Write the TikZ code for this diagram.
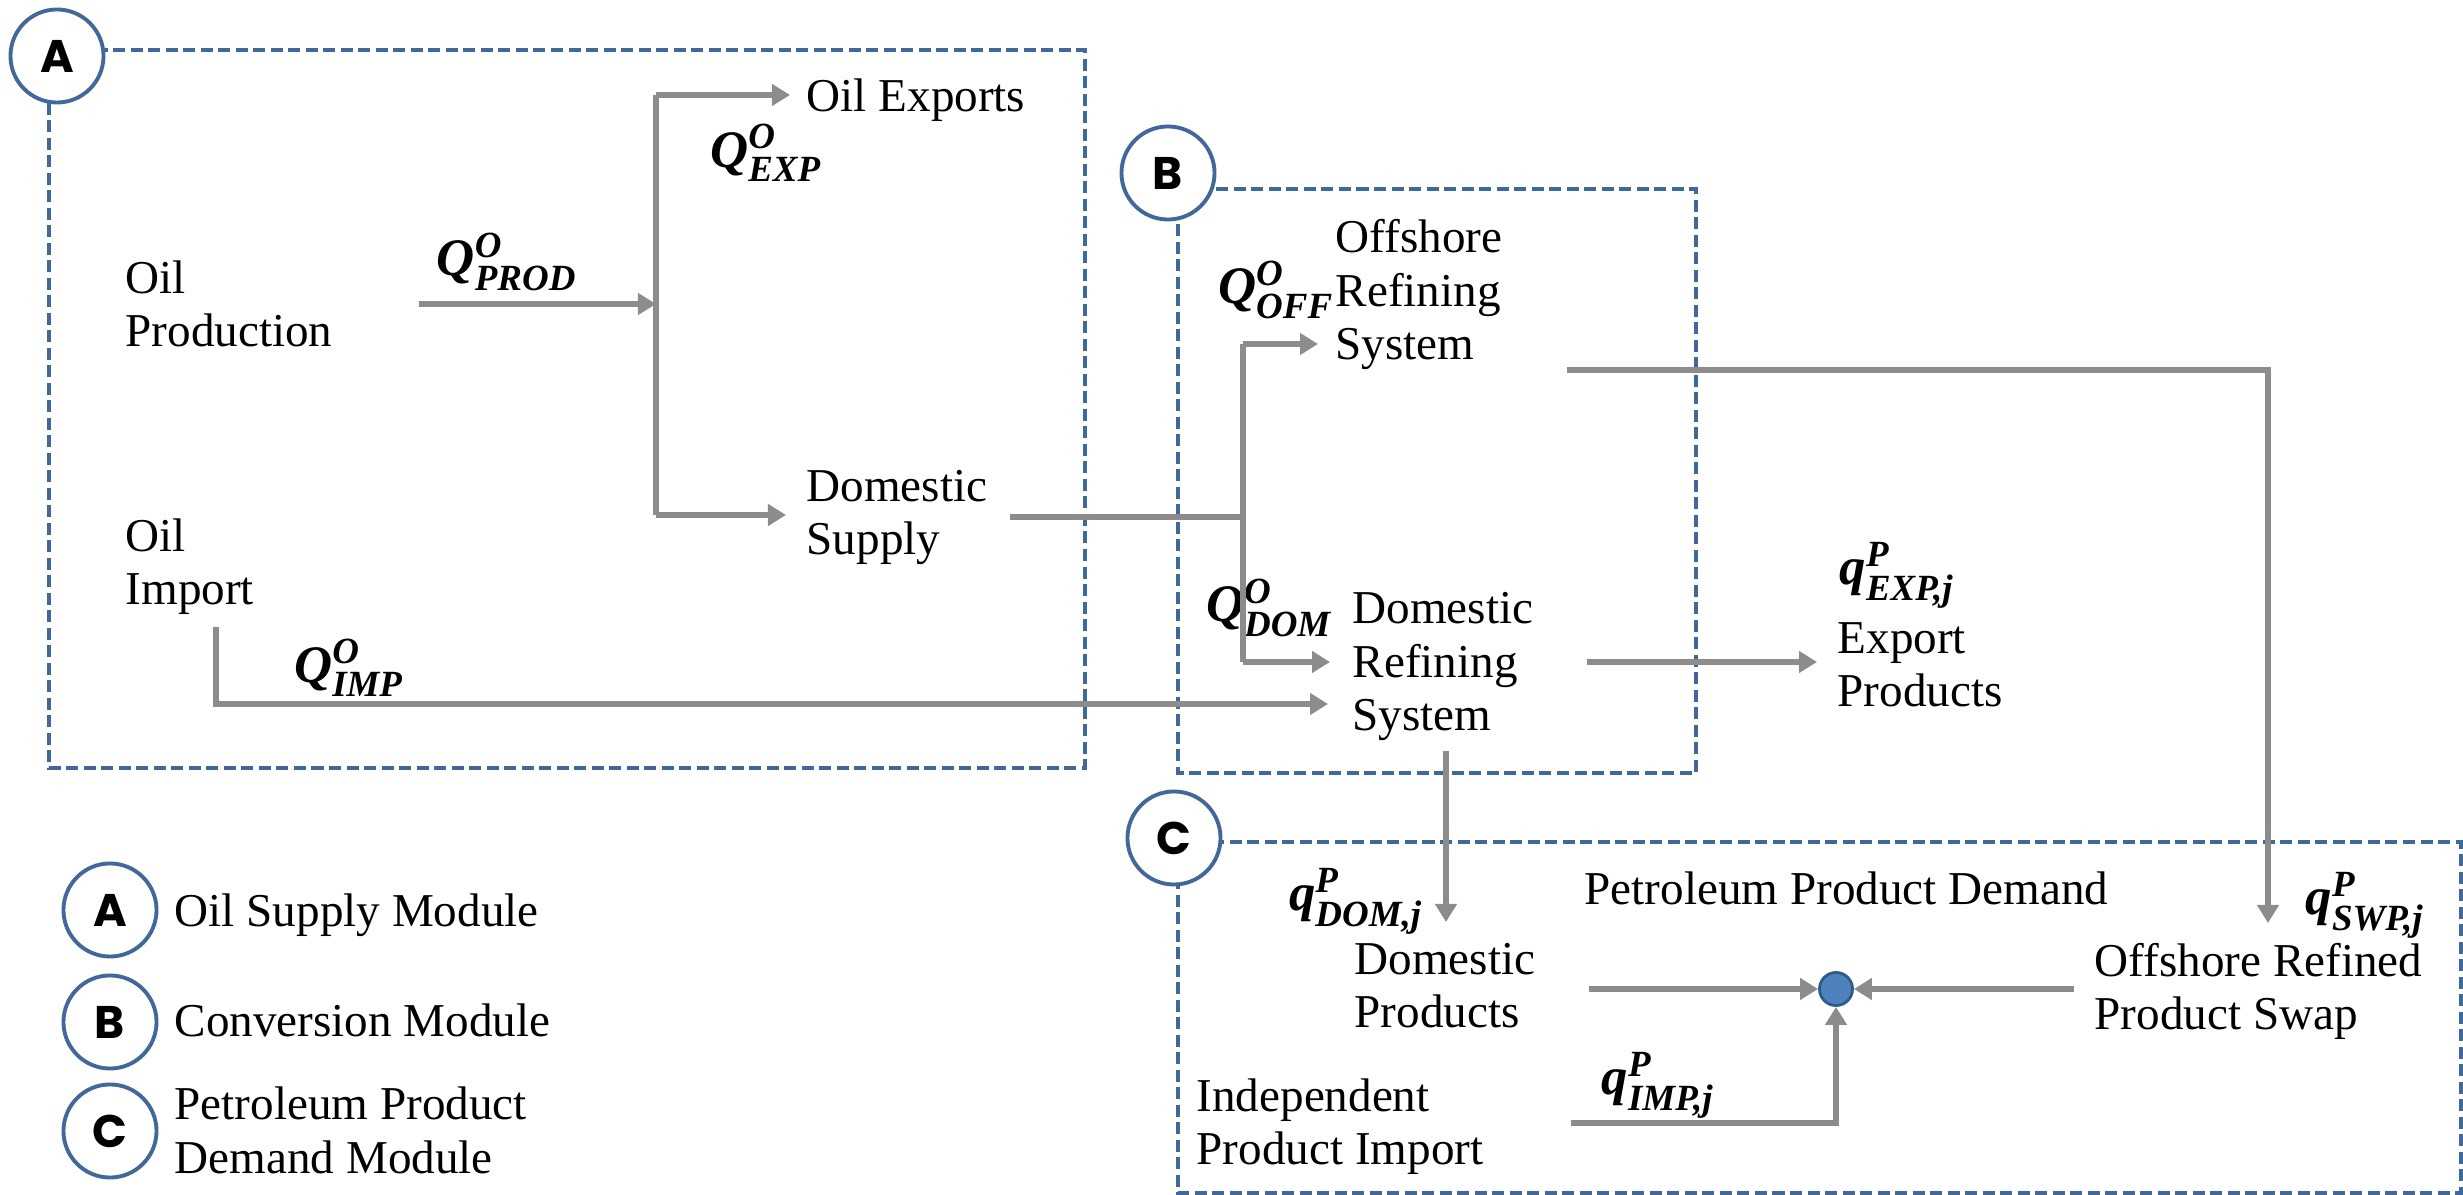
\documentclass[tikz,border=0pt]{standalone}
\usepackage{amsmath}
\usepackage{fontspec}
\setmainfont{Liberation Serif}
\newfontfamily\badgefont{Poppins}
\usetikzlibrary{arrows.meta}

\definecolor{flowgray}{RGB}{140,140,140}
\definecolor{modblue}{RGB}{65,104,154}
\definecolor{dotblue}{RGB}{79,129,189}
\definecolor{dotedge}{RGB}{46,92,138}

% bold italic flow symbol with superscript and subscript
\newcommand{\flowsym}[3]{\textbf{\textit{#1}}$^{\text{\bfseries\itshape #2}}_{\text{\bfseries\itshape #3}}$}

\begin{document}
\begin{tikzpicture}[x=0.01cm,y=-0.01cm,
  % multi-line labels: base anchor sits on the last line
  txt/.style={inner sep=0pt, anchor=base west, align=left,
    font=\fontsize{13.4pt}{15.3pt}\selectfont},
  qlabel/.style={inner sep=0pt, font=\fontsize{15pt}{16pt}\selectfont},
  flow/.style={draw=flowgray, line width=1.9pt,
    -{Triangle[length=0.18cm,width=0.21cm]}},
  pipe/.style={draw=flowgray, line width=1.9pt},
  module/.style={draw=modblue, line width=0.9pt,
    dash pattern=on 0.12cm off 0.055cm},
  badge/.style={circle, draw=modblue, line width=1.1pt, fill=white,
    minimum size=0.93cm, inner sep=0pt,
    font=\badgefont\bfseries\fontsize{13pt}{13pt}\selectfont},
  junction/.style={circle, fill=dotblue, draw=dotedge, line width=0.8pt,
    minimum size=0.33cm, inner sep=0pt}]

\useasboundingbox (0,0) rectangle (2463,1195);

% module frames
\draw[module] (49,50) rectangle (1085,768);
\draw[module] (1178,189) rectangle (1696,773);
\draw[module] (1178,842) rectangle (2461,1193);

% --- Oil supply module ---
\node[txt] (exports) at (806,112) {Oil Exports};
\node[txt] (prod) at (125,347) {Oil\\Production};
\node[txt] (domsup) at (806,555) {Domestic\\Supply};
\node[txt] (oilimp) at (125,605) {Oil\\Import};
\node[qlabel] (qexp) at (766,153) {\flowsym{Q}{O}{EXP}};
\node[qlabel] (qprod) at (507,262) {\flowsym{Q}{O}{PROD}};
\node[qlabel] (qimp) at (349,668) {\flowsym{Q}{O}{IMP}};

\coordinate (prodout) at (419,304);
\coordinate (split) at (656,304);
\coordinate (expcorner) at (656,95);
\coordinate (dscorner) at (656,515);
\coordinate (expin) at (790,95);
\coordinate (dsin) at (786,515);
\coordinate (dsout) at (1010,517);
\coordinate (impout) at (216,627);

\draw[flow] (prodout) -- (split);
\draw[pipe] (expcorner) -- (dscorner);
\draw[flow] (expcorner) -- (expin);
\draw[flow] (dscorner) -- (dsin);

% --- Conversion module ---
\node[txt] (offref) at (1335,360) {Offshore\\Refining\\System};
\node[txt] (domref) at (1352,731) {Domestic\\Refining\\System};
\node[txt] (expprod) at (1837,707) {Export\\Products};
\node[qlabel] (qoff) at (1276,290) {\flowsym{Q}{O}{OFF}};
\node[qlabel] (qdom) at (1269,608) {\flowsym{Q}{O}{DOM}};
\node[qlabel] (qexpj) at (1897,575) {\flowsym{q}{P}{EXP,j}};

\coordinate (bjoin) at (1243,517);
\coordinate (offcorner) at (1243,344);
\coordinate (drcorner) at (1243,662);
\coordinate (offin) at (1318,344);
\coordinate (drin) at (1330,662);
\coordinate (drimp) at (1328,704);
\coordinate (offout) at (1567,370);
\coordinate (drexp) at (1587,662);
\coordinate (expprodin) at (1817,662);
\coordinate (drout) at (1446,751);

\draw[pipe] (dsout) -- (bjoin);
\draw[pipe] (offcorner) -- (drcorner);
\draw[flow] (offcorner) -- (offin);
\draw[flow] (drcorner) -- (drin);
\draw[flow] (impout) |- (drimp);
\draw[flow] (drexp) -- (expprodin);

% --- Petroleum product demand module ---
\node[txt] (ppd) at (1584,905) {Petroleum Product Demand};
\node[txt] (domprod) at (1354,1028) {Domestic\\Products};
\node[txt] (swap) at (2094,1030) {Offshore Refined\\Product Swap};
\node[txt] (indimp) at (1196,1165) {Independent\\Product Import};
\node[qlabel] (qdomj) at (1356,901) {\flowsym{q}{P}{DOM,j}};
\node[qlabel] (qswpj) at (2365,905) {\flowsym{q}{P}{SWP,j}};
\node[qlabel] (qimpj) at (1658,1085) {\flowsym{q}{P}{IMP,j}};
\node[junction] (hub) at (1836,989) {};

\coordinate (dpin) at (1446,922);
\coordinate (swapin) at (2268,923);
\coordinate (dpout) at (1589,989);
\coordinate (swout) at (2074,989);
\coordinate (ipout) at (1571,1123);

\draw[flow] (drout) -- (dpin);
\draw[flow] (offout) -| (swapin);
\draw[flow] (dpout) -- (hub);
\draw[flow] (swout) -- (hub);
\draw[flow] (ipout) -| (hub);

% module badges
\node[badge] (ba) at (57,56) {A};
\node[badge] (bb) at (1168,173) {B};
\node[badge] (bc) at (1174,838) {C};

% legend
\node[badge] (la) at (110,910) {A};
\node[badge] (lb) at (110,1022) {B};
\node[badge] (lc) at (110,1131) {C};
\node[txt] (lta) at (174,927) {Oil Supply Module};
\node[txt] (ltb) at (174,1037) {Conversion Module};
\node[txt] (ltc) at (174,1173) {Petroleum Product\\Demand Module};

\end{tikzpicture}
\end{document}
